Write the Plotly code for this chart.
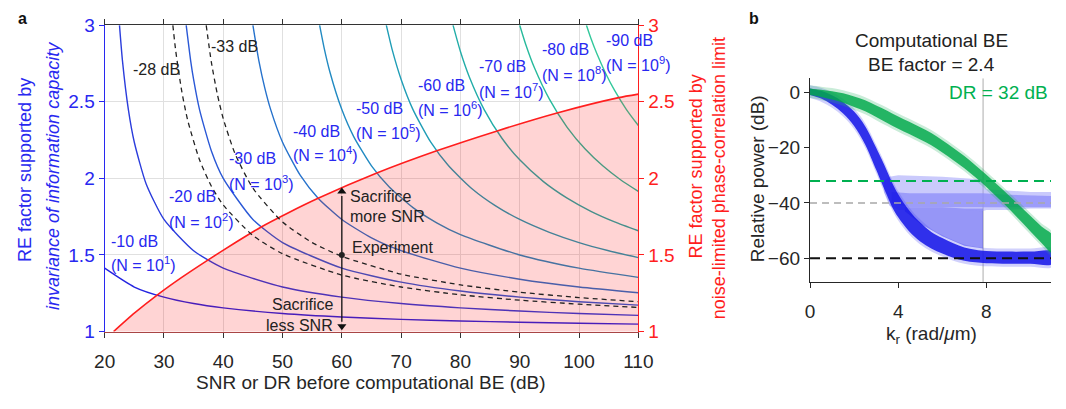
import plotly.graph_objects as go

FONT = "Liberation Sans, Arial, sans-serif"
W, H = 1066, 409

# ---------------- panel a data ----------------
# RE factor curves for a given SNR sacrifice (invariance of information capacity)
x_m10 = [20, 25, 30, 35, 40, 50, 60, 70, 80, 90, 100, 110]
re_m10 = [1.414, 1.291, 1.225, 1.183, 1.155, 1.118, 1.095, 1.080, 1.069, 1.061, 1.054, 1.049]
x_m20 = [22.5, 23, 24, 25, 27, 30, 35, 40, 50, 60, 70, 80, 90, 100, 110]
re_m20 = [3.0, 2.769, 2.449, 2.236, 1.964, 1.732, 1.528, 1.414, 1.291, 1.225, 1.183, 1.155, 1.134, 1.118, 1.106]
x_m30 = [33.75, 34.5, 35, 36, 38, 40, 45, 50, 60, 70, 80, 90, 100, 110]
re_m30 = [3.0, 2.769, 2.646, 2.449, 2.179, 2.0, 1.732, 1.581, 1.414, 1.323, 1.265, 1.225, 1.195, 1.173]
x_m40 = [45, 46, 47, 48, 50, 53, 56, 60, 65, 70, 80, 90, 100, 110]
re_m40 = [3.0, 2.769, 2.591, 2.449, 2.236, 2.019, 1.871, 1.732, 1.612, 1.528, 1.414, 1.342, 1.291, 1.254]
x_m50 = [56.25, 57, 58, 60, 62, 65, 68, 72, 76, 80, 90, 100, 110]
re_m50 = [3.0, 2.854, 2.693, 2.449, 2.273, 2.082, 1.944, 1.809, 1.710, 1.633, 1.5, 1.414, 1.354]
x_m60 = [67.5, 68.5, 70, 72, 75, 78, 82, 86, 90, 95, 100, 105, 110]
re_m60 = [3.0, 2.839, 2.646, 2.449, 2.236, 2.082, 1.931, 1.819, 1.732, 1.648, 1.581, 1.528, 1.483]
x_m70 = [78.75, 80, 81.5, 84, 87, 90, 94, 98, 102, 106, 110]
re_m70 = [3.0, 2.828, 2.662, 2.449, 2.262, 2.121, 1.979, 1.871, 1.785, 1.716, 1.658]
x_m80 = [90, 91, 92.5, 95, 98, 101, 104, 107, 110]
re_m80 = [3.0, 2.876, 2.720, 2.517, 2.333, 2.193, 2.082, 1.991, 1.915]
x_m90 = [101.25, 102, 103, 104.5, 106, 108, 110]
re_m90 = [3.0, 2.915, 2.815, 2.685, 2.574, 2.449, 2.345]

x_m28 = [31.5, 32, 33, 34, 36, 38, 40, 45, 50, 60, 70, 80, 90, 100, 110]
re_m28 = [3.0, 2.828, 2.569, 2.380, 2.121, 1.949, 1.826, 1.627, 1.508, 1.369, 1.291, 1.240, 1.205, 1.179, 1.158]
x_m33 = [37.125, 38, 39, 40, 42, 45, 50, 55, 60, 70, 80, 90, 100, 110]
re_m33 = [3.0, 2.757, 2.550, 2.390, 2.160, 1.936, 1.715, 1.581, 1.491, 1.375, 1.305, 1.257, 1.222, 1.195]

# noise-limited phase-correlation limit
x_limit = [21.5, 25, 28.9, 33, 37.4, 42, 46.4, 51, 56, 65.9, 76, 86.2, 96.3, 106.7, 110]
re_limit = [1.0, 1.12, 1.24, 1.354, 1.467, 1.58, 1.683, 1.776, 1.87, 2.035, 2.18, 2.31, 2.427, 2.527, 2.55]

experiment_snr = [60]
experiment_re = [1.5]
arrow_re_top = 1.915
arrow_re_bottom = 1.035

sacrifice_db = [-10, -20, -30, -40, -50, -60, -70, -80, -90]
sacrifice_exp = [1, 2, 3, 4, 5, 6, 7, 8, 9]
label_x = [20.66, 30.5, 40.7, 51.4, 62.1, 72.5, 82.8, 93.4, 104.2]
label_y_db = [1.588, 1.88, 2.127, 2.306, 2.455, 2.604, 2.728, 2.84, 2.90]
label_y_n = [1.44, 1.725, 1.972, 2.158, 2.306, 2.455, 2.573, 2.684, 2.746]

x_ticks_a = [20, 30, 40, 50, 60, 70, 80, 90, 100, 110]
y_ticks_a = [1, 1.5, 2, 2.5, 3]

# ---------------- panel b data ----------------
k_green = [0, 0.5, 1, 1.5, 2, 2.5, 3, 3.5, 4, 4.5, 5, 5.5, 6, 6.5, 7, 7.5, 8, 8.5, 9, 9.5, 10, 10.5, 11]
green_mid = [0.3, -0.3, -1, -2, -3.3, -4.8, -6.8, -8.8, -10.9, -12.8, -14.8, -16.9, -19.5, -22.3, -25.2, -28.5, -32, -35.7, -39.5, -43.5, -47.5, -51.5, -55]
green_half = [1.2, 1.3, 1.5, 1.7, 1.9, 2.0, 2.1, 2.2, 2.2, 2.2, 2.2, 2.2, 2.2, 2.2, 2.2, 2.2, 2.2, 2.3, 2.4, 2.6, 2.8, 3.0, 3.2]

k_blue = [0, 0.5, 1, 1.5, 2, 2.5, 3, 3.25, 3.5, 3.75, 4, 4.5, 5, 5.5, 6, 6.5, 7, 7.5, 8, 9, 10, 11]
blue_mid = [0.3, -0.8, -2.7, -5.5, -9.5, -15.5, -24, -28.5, -33, -37.5, -41, -46.5, -50.5, -53.5, -55.5, -57.2, -58.5, -59.2, -59.6, -59.8, -59.8, -59.8]
blue_half = [1.2, 1.4, 1.7, 2.1, 2.6, 3.3, 4.0, 4.3, 4.4, 4.4, 4.2, 3.8, 3.4, 3.0, 2.8, 2.6, 2.4, 2.3, 2.2, 2.2, 2.2, 2.2]

k_haze = [3.35, 3.6, 4.0, 5.0, 6.0, 7.0, 7.8, 8.0, 9.0, 10.0, 11.0]
haze_top = [-32, -30.5, -30, -30.2, -30.5, -31, -31.5, -35, -35.5, -36, -36]
haze_bot = [-36, -41, -42.5, -42.5, -42.5, -42.5, -43, -42.5, -42.5, -42, -42]

k_haze_core = [3.7, 4.5, 6.0, 7.8, 9.0, 11.0]
haze_core_top = [-36, -36.5, -36.5, -36.5, -37, -37.5]
haze_core_bot = [-40, -41.5, -41.5, -41.5, -41.5, -41.5]

k_speck = [4.3, 5.0, 6.0, 7.0, 7.85]
speck_top = [-41.5, -41.5, -41.5, -42, -42]
speck_bot = [-43, -47.5, -52, -55.5, -56.5]

dr_green = -32
dr_gray = -40
dr_black = -60
k_cut = 7.85

x_ticks_b = [0, 4, 8]
y_ticks_b = [0, -20, -40, -60]

# ---------------- styling ----------------
BLUE = "rgb(40,40,240)"
RED = "rgb(255,30,30)"
DARK = "#262626"
curve_colors = ["#2424e0", "#2b3ddc", "#2a58d6", "#2672cc", "#218ac2", "#1f9db6",
                "#22ada8", "#27ba9c", "#33c89b"]


def pxx(p):
    return p / W


def pxy(p):
    return 1 - p / H


fig = go.Figure()

curves = [(x_m10, re_m10), (x_m20, re_m20), (x_m30, re_m30), (x_m40, re_m40),
          (x_m50, re_m50), (x_m60, re_m60), (x_m70, re_m70), (x_m80, re_m80),
          (x_m90, re_m90)]
for (cx, cy), col in zip(curves, curve_colors):
    fig.add_trace(go.Scatter(x=cx, y=cy, mode="lines", xaxis="x", yaxis="y",
                             line=dict(color=col, width=1.4, shape="spline", smoothing=0.6),
                             hoverinfo="skip"))

for cx, cy in [(x_m28, re_m28), (x_m33, re_m33)]:
    fig.add_trace(go.Scatter(x=cx, y=cy, mode="lines", xaxis="x2", yaxis="y",
                             line=dict(color="#222222", width=1.3, dash="5px,4px",
                                       shape="spline", smoothing=0.6),
                             hoverinfo="skip"))

# shaded region under the phase-correlation limit
fig.add_trace(go.Scatter(x=x_limit, y=re_limit, mode="lines", xaxis="x", yaxis="y2",
                         fill="tozeroy", fillcolor="rgba(255,0,0,0.17)",
                         line=dict(color=RED, width=1.6, shape="spline", smoothing=0.6),
                         hoverinfo="skip"))

# double-headed arrow through the experiment point
x_exp = experiment_snr[0]
fig.add_trace(go.Scatter(x=[x_exp, x_exp], y=[arrow_re_bottom + 0.03, arrow_re_top - 0.03],
                         mode="lines", xaxis="x", yaxis="y2",
                         line=dict(color="#111111", width=1.3), hoverinfo="skip"))
fig.add_trace(go.Scatter(x=[x_exp, x_exp], y=[arrow_re_top, arrow_re_bottom], mode="markers",
                         xaxis="x", yaxis="y2",
                         marker=dict(symbol=["triangle-up", "triangle-down"], size=8,
                                     color="#111111"),
                         hoverinfo="skip"))
fig.add_trace(go.Scatter(x=experiment_snr, y=experiment_re, mode="markers",
                         xaxis="x", yaxis="y2",
                         marker=dict(color="#222222", size=6), hoverinfo="skip"))

# ---------------- panel b traces ----------------
fig.add_trace(go.Scatter(x=[k_cut, k_cut], y=[5.15, -68.6], mode="lines",
                         xaxis="x3", yaxis="y3",
                         line=dict(color="#c8c8c8", width=1.5), hoverinfo="skip"))


def band(kx, top, bot, color, shape="linear"):
    return go.Scatter(x=list(kx) + list(kx)[::-1], y=list(top) + list(bot)[::-1],
                      mode="lines", fill="toself", fillcolor=color,
                      line=dict(width=0, shape=shape), xaxis="x3", yaxis="y3",
                      hoverinfo="skip")


fig.add_trace(band(k_speck, speck_top, speck_bot, "rgba(45,45,240,0.5)"))
fig.add_trace(band(k_haze, haze_top, haze_bot, "rgba(150,150,250,0.5)"))
fig.add_trace(band(k_haze_core, haze_core_top, haze_core_bot, "rgba(140,140,250,0.75)"))

b_top_o = [m + h + 1.1 for m, h in zip(blue_mid, blue_half)]
b_bot_o = [m - h - 1.1 for m, h in zip(blue_mid, blue_half)]
b_top = [m + h for m, h in zip(blue_mid, blue_half)]
b_bot = [m - h for m, h in zip(blue_mid, blue_half)]
fig.add_trace(band(k_blue, b_top_o, b_bot_o, "rgba(70,70,245,0.25)", "spline"))
fig.add_trace(band(k_blue, b_top, b_bot, "rgba(20,20,232,0.85)", "spline"))

g_top_o = [m + h + 1.1 for m, h in zip(green_mid, green_half)]
g_bot_o = [m - h - 1.1 for m, h in zip(green_mid, green_half)]
g_top = [m + h for m, h in zip(green_mid, green_half)]
g_bot = [m - h for m, h in zip(green_mid, green_half)]
fig.add_trace(band(k_green, g_top_o, g_bot_o, "rgba(40,180,100,0.25)", "spline"))
fig.add_trace(band(k_green, g_top, g_bot, "rgba(0,168,75,0.82)", "spline"))

for level, col, wd, dash in [(dr_gray, "#a8a8a8", 1.3, "7px,5px"),
                             (dr_green, "#00b050", 2.0, "10px,6px"),
                             (dr_black, "#111111", 2.0, "10px,6px")]:
    fig.add_trace(go.Scatter(x=[0, 11], y=[level, level], mode="lines",
                             xaxis="x3", yaxis="y3",
                             line=dict(color=col, width=wd, dash=dash), hoverinfo="skip"))

# ---------------- annotations ----------------
ann = []


def text_note(x, y, text, size, color, xref="paper", yref="paper", xanchor="center",
              angle=0):
    return dict(x=x, y=y, xref=xref, yref=yref, text=text, showarrow=False,
                xanchor=xanchor, yanchor="middle", textangle=angle,
                font=dict(family=FONT, size=size, color=color))


for i, d in enumerate(sacrifice_db):
    ann.append(text_note(label_x[i], label_y_db[i], f"{d} dB", 16, BLUE, "x", "y", "left"))
    ann.append(text_note(label_x[i], label_y_n[i], f"(N = 10<sup>{sacrifice_exp[i]}</sup>)",
                         16, BLUE, "x", "y", "left"))

ann.append(text_note(24.4, 2.709, "-28 dB", 16, "#222", "x", "y", "left"))
ann.append(text_note(37.6, 2.858, "-33 dB", 16, "#222", "x", "y", "left"))

for txt, xx, yy, anc in [("Sacrifice", 61.0, 1.88, "left"), ("more SNR", 61.0, 1.75, "left"),
                         ("Experiment", 61.3, 1.551, "left"),
                         ("Sacrifice", 58.8, 1.18, "right"), ("less SNR", 58.8, 1.043, "right")]:
    ann.append(text_note(xx, yy, txt, 16, "#222", "x", "y", anc))

# axis titles and panel letters
ann += [
    text_note(pxx(15), pxy(169), "RE factor supported by", 18, BLUE, angle=-90),
    text_note(pxx(43), pxy(175), "<i>invariance of information capacity</i>", 18, BLUE,
              angle=-90),
    text_note(pxx(702), pxy(165), "RE factor supported by", 18, RED, angle=-90),
    text_note(pxx(726), pxy(177), "noise-limited phase-correlation limit", 18, RED,
              angle=-90),
    text_note(pxx(369), pxy(393), "SNR or DR before computational BE (dB)", 19, DARK),
    text_note(pxx(5), pxy(9), "<b>a</b>", 16, "#111", xanchor="left"),
    text_note(pxx(754), pxy(9), "<b>b</b>", 16, "#111", xanchor="left"),
    text_note(pxx(944), pxy(32), "Computational BE", 19, "#222"),
    text_note(pxx(944), pxy(57), "BE factor = 2.4", 19, "#222"),
    text_note(pxx(1065), pxy(87), "DR = 32 dB", 19, "#00b050", xanchor="right"),
    text_note(pxx(766), pxy(178), "Relative power (dB)", 19, DARK, angle=-90),
    text_note(pxx(944), pxy(343), "k<sub>r</sub> (rad/<i>μ</i>m)", 19, DARK),
]

dom_ax = [pxx(96), pxx(643)]
dom_ay = [pxy(339), pxy(16)]
dom_bx = [pxx(819), 1.0]
dom_by = [pxy(286.7), pxy(72)]

fig.update_layout(
    width=W, height=H, margin=dict(l=0, r=0, t=0, b=0),
    paper_bgcolor="white", plot_bgcolor="white", showlegend=False,
    font=dict(family=FONT),
    annotations=ann,
    xaxis=dict(domain=dom_ax, range=[20, 110], anchor="y", tickvals=x_ticks_a,
               ticks="outside", ticklen=5, tickcolor="#333", showline=True,
               linecolor="#a84545", linewidth=1.3, showgrid=True, gridcolor="#e0e0e0",
               zeroline=False, tickfont=dict(family=FONT, size=19, color=DARK),
               ticklabelstandoff=7),
    xaxis2=dict(overlaying="x", side="top", anchor="y", range=[20, 110], tickvals=x_ticks_a,
                ticks="outside", ticklen=5, tickcolor="#333", showline=True,
                linecolor="#333", linewidth=1.2, showgrid=False, zeroline=False,
                showticklabels=False),
    yaxis=dict(domain=dom_ay, range=[1, 3], anchor="x", tickvals=y_ticks_a,
               ticktext=["1", "1.5", "2", "2.5", "3"], ticks="outside", ticklen=5,
               tickcolor=BLUE, showline=True, linecolor=BLUE, linewidth=1.3,
               showgrid=True, gridcolor="#e0e0e0", zeroline=False,
               tickfont=dict(family=FONT, size=19, color=BLUE)),
    yaxis2=dict(overlaying="y", side="right", anchor="x", range=[1, 3], tickvals=y_ticks_a,
                ticktext=["1", "1.5", "2", "2.5", "3"], ticks="outside", ticklen=5,
                tickcolor=RED, showline=True, linecolor=RED, linewidth=1.3,
                showgrid=False, zeroline=False,
                tickfont=dict(family=FONT, size=19, color=RED)),
    xaxis3=dict(domain=dom_bx, range=[0, 10.93], anchor="y3", tickvals=x_ticks_b,
                ticks="outside", ticklen=5, tickcolor=DARK, showline=True, linecolor=DARK,
                linewidth=1.3, showgrid=False, zeroline=False,
                tickfont=dict(family=FONT, size=19, color=DARK), ticklabelstandoff=7),
    yaxis3=dict(domain=dom_by, range=[-68.6, 5.15], anchor="x3", tickvals=y_ticks_b,
                ticks="outside", ticklen=5, tickcolor=DARK, showline=True, linecolor=DARK,
                linewidth=1.3, showgrid=False, zeroline=False,
                tickfont=dict(family=FONT, size=19, color=DARK)),
)

fig.write_html("out.html")
